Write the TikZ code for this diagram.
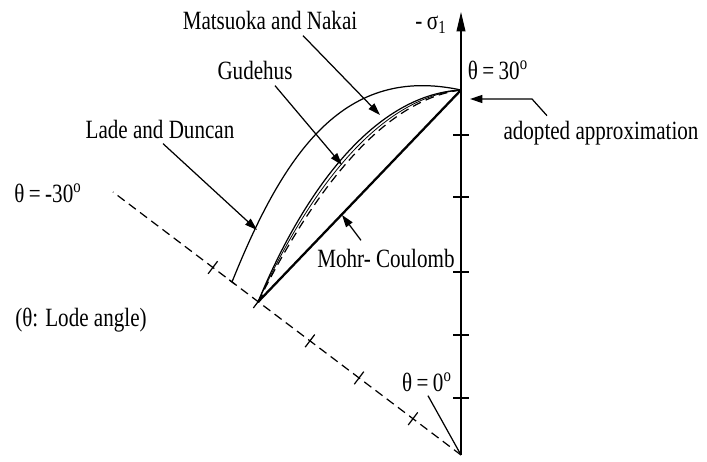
\documentclass[tikz,border=0pt]{standalone}
\usepackage{fontspec}
\setmainfont{Liberation Serif}[FakeStretch=0.8]
\usetikzlibrary{arrows.meta, calc}
\tikzset{lbl/.style={font=\fontsize{15}{17}\selectfont, inner sep=1pt},
  pointer/.style={-{Triangle[length=7pt,width=4.5pt]}},
  dsh/.style={dash pattern=on 5pt off 3pt}}

\begin{document}
\begin{tikzpicture}[x=0.02cm, y=-0.02cm, line width=0.7pt]
\useasboundingbox (0,0) rectangle (707,462);
\coordinate (O) at (461,455);
\coordinate (top) at (461,12);
\coordinate (lm) at (113,192);
\coordinate (S) at (258,302);
\coordinate (A) at (461,90);
\coordinate (L0) at (232,282);
% axes
\draw[-{Triangle[length=11pt,width=5pt]}] (O) -- (top);
\draw[dsh] (O) -- (lm);
\foreach \y in {135,197,272,335,398}
  \draw (453,\y) -- (469,\y);
\foreach \t in {0.138,0.293,0.434,0.583,0.713}
  \draw ($(O)!\t!(lm)!4.5pt!90:(lm)$) -- ($(O)!\t!(lm)!4.5pt!-90:(lm)$);
% criteria
\draw[line width=1.3pt] (S) -- (A);
\draw (S) .. controls (300,200) and (370,95) .. (A);
\draw[line width=0.45pt] (S) .. controls (303,203) and (373,98) .. (A);
\draw[dsh] (S) .. controls (306,206) and (376,101) .. (A);
\draw (L0) .. controls (285,150) and (345,65) .. (A);
\draw ($(L0)!2pt!(O)$) -- ($(L0)!2pt!(lm)$);
% labels
\node[lbl] (mn) at (270,20) {Matsuoka and Nakai};
\node[lbl] (gud) at (255,70) {Gudehus};
\node[lbl] (lade) at (160,129) {Lade and Duncan};
\node[lbl] (mc) at (386,258) {Mohr- Coulomb};
\node[lbl] (adopt) at (601,133) {adopted approximation};
\node[lbl] (t30) at (498,70) {θ\,=\,30\textsuperscript{o}};
\node[lbl] (tm30) at (48,193) {θ\,=\,-30\textsuperscript{o}};
\node[lbl] (t0) at (427,382) {θ\,=\,0\textsuperscript{o}};
\node[lbl] (sig) at (431,25) {-\,σ\textsubscript{1}};
\node[lbl] (lode) at (81,320) {(θ: Lode angle)};
\coordinate (mntip) at (380,115);
\coordinate (gudtip) at (342,165);
\coordinate (ladetip) at (257,230);
\coordinate (mctip) at (342,215);
\coordinate (bend) at (532,99);
\coordinate (adtip) at (470,99);
\draw[pointer] ([shift={(33,4)}]mn.south) -- (mntip);
\draw[pointer] ([shift={(20,4)}]gud.south) -- (gudtip);
\draw[pointer] ([shift={(3,3)}]lade.south) -- (ladetip);
\draw[pointer] ([shift={(-25,-6)}]mc.north) -- (mctip);
\draw[pointer] ([shift={(-54,-3)}]adopt.north) -- (bend) -- (adtip);
\draw ([shift={(1,2)}]t0.south) -- (O);
\end{tikzpicture}
\end{document}
